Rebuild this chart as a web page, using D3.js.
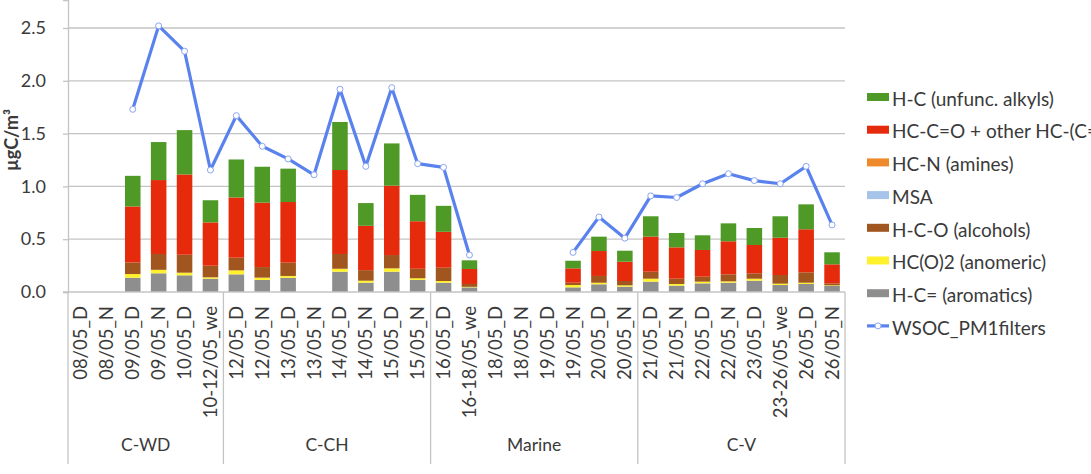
<!DOCTYPE html>
<html>
<head>
<meta charset="utf-8">
<script src="https://cdn.jsdelivr.net/npm/d3@7"></script>
<style>
  body { margin: 0; background: #fff; }
  text { font-family: Lato, "Open Sans", sans-serif; fill: #3a3a3a; }
</style>
</head>
<body>
<div id="container"></div>
<script>
let w = 1091;
let h = 474;

// categories (sample periods) and site groups
let categories = ["08/05_D","08/05_N","09/05_D","09/05_N","10/05_D","10-12/05_we",
  "12/05_D","12/05_N","13/05_D","13/05_N","14/05_D","14/05_N","15/05_D","15/05_N",
  "16/05_D","16-18/05_we","18/05_D","18/05_N","19/05_D","19/05_N","20/05_D","20/05_N",
  "21/05_D","21/05_N","22/05_D","22/05_N","23/05_D","23-26/05_we","26/05_D","26/05_N"];
let groupNames = ["C-WD", "C-CH", "Marine", "C-V"];
let groupFirst = ["08/05_D", "12/05_D", "16/05_D", "21/05_D"];
let groupLast = ["10-12/05_we", "15/05_N", "20/05_N", "26/05_N"];

// stacked components, µgC/m3
let aromatics = [0,0,.135,.177,.158,.126,.167,.114,.135,0,.192,.088,.192,.114,.088,.044,0,0,0,.044,.073,.05,.098,.06,.082,.088,.107,.066,.076,.057];
let anomeric  = [0,0,.035,.033,.025,.013,.038,.022,.017,0,.028,.019,.032,.016,.016,.005,0,0,0,.022,.015,.013,.028,.016,.016,.013,.019,.013,.012,.006];
let alcohols  = [0,0,.11,.15,.17,.11,.12,.10,.126,0,.14,.10,.126,.09,.126,.027,0,0,0,.022,.064,.041,.066,.05,.047,.066,.051,.082,.098,.019];
let msa       = [0,0,0,0,0,0,0,0,0,0,0,0,0,0,0,0,0,0,0,0,0,0,0,0,0,0,0,0,0,0];
let amines    = [0,0,0,0,0,0,0,0,0,0,0,0,0,0,0,0,0,0,0,0,0,0,0,0,0,0,0,0,0,0];
let carbonyl  = [0,0,.53,.70,.76,.41,.57,.61,.574,0,.795,.42,.657,.45,.34,.142,0,0,0,.136,.236,.183,.332,.297,.253,.313,.268,.353,.408,.18];
let alkyls    = [0,0,.29,.36,.42,.21,.36,.34,.316,0,.455,.215,.40,.25,.246,.082,0,0,0,.072,.136,.104,.193,.136,.139,.17,.161,.203,.236,.114];

let wsoc = [null,null,1.73,2.52,2.28,1.155,1.67,1.38,1.26,1.11,1.92,1.19,1.935,1.215,1.18,0.35,
  null,null,null,0.375,0.71,0.51,0.91,0.895,1.025,1.12,1.055,1.025,1.19,0.635];

let yTicks = [0, 0.5, 1.0, 1.5, 2.0, 2.5];

// stack order bottom -> top
let keys = ["aromatics","anomeric","alcohols","msa","amines","carbonyl","alkyls"];
let seriesValues = {aromatics, anomeric, alcohols, msa, amines, carbonyl, alkyls};
let seriesLabels = {
  alkyls: "H-C (unfunc. alkyls)",
  carbonyl: "HC-C=O + other HC-(C=O)",
  amines: "HC-N (amines)",
  msa: "MSA",
  alcohols: "H-C-O (alcohols)",
  anomeric: "HC(O)2 (anomeric)",
  aromatics: "H-C= (aromatics)"
};
let colors = {
  alkyls: "#4f9a27",
  carbonyl: "#e52b0c",
  amines: "#ef8a2c",
  msa: "#a6c3ea",
  alcohols: "#a0561e",
  anomeric: "#fff12c",
  aromatics: "#8e8e8e"
};
let lineColor = "#5a82ee";

let table = categories.map((c, i) => {
  let row = {cat: c};
  keys.forEach(k => row[k] = seriesValues[k][i]);
  return row;
});

let viz = d3.select("#container")
  .append("svg")
    .attr("width", w)
    .attr("height", h);

let xScale = d3.scaleBand().domain(categories).range([68, 845]).paddingInner(0.4).paddingOuter(0.2);
let yScale = d3.scaleLinear().domain([0, 2.765]).range([292, 0]);

// gridlines
viz.append("g").selectAll("line").data(yTicks.slice(1)).enter()
  .append("line")
    .attr("x1", 68).attr("x2", 845)
    .attr("y1", d => yScale(d)).attr("y2", d => yScale(d))
    .attr("stroke", "#c4c4c4").attr("stroke-width", 1.3);

// y axis
let yAxisGroup = viz.append("g").attr("transform", "translate(68,0)");
yAxisGroup.call(d3.axisLeft(yScale).tickValues(yTicks).tickFormat(d3.format(".1f")).tickSize(5).tickPadding(17));
yAxisGroup.select(".domain").attr("stroke", "#c4c4c4").attr("stroke-width", 1.3);
yAxisGroup.selectAll(".tick line").attr("stroke", "#c4c4c4").attr("stroke-width", 1.3);
yAxisGroup.selectAll(".tick text")
  .style("font-family", "Lato, sans-serif").style("font-size", "18px").attr("fill", "#3a3a3a");

viz.append("text")
  .attr("transform", "translate(18,140) rotate(-90)")
  .attr("text-anchor", "middle")
  .style("font-size", "18px").style("font-weight", "bold")
  .text("µgC/m³");

// bars
let stacked = d3.stack().keys(keys)(table);
viz.append("g").selectAll("g").data(stacked).enter()
  .append("g")
    .attr("fill", d => colors[d.key])
  .selectAll("rect").data(d => d).enter()
  .append("rect")
    .attr("x", d => xScale(d.data.cat))
    .attr("width", xScale.bandwidth())
    .attr("y", d => yScale(d[1]))
    .attr("height", d => yScale(d[0]) - yScale(d[1]));

// category axis
let axisG = viz.append("g").attr("class", "catAxis");
axisG.append("line")
  .attr("x1", 63).attr("x2", 845).attr("y1", 292).attr("y2", 292)
  .attr("stroke", "#c4c4c4").attr("stroke-width", 1.3);

let seps = [68].concat(groupLast.map(c => xScale(c) + xScale.step() * 0.8));
axisG.selectAll(".sep").data(seps).enter()
  .append("line")
    .attr("x1", d => d).attr("x2", d => d)
    .attr("y1", 292).attr("y2", 464)
    .attr("stroke", "#c4c4c4").attr("stroke-width", 1.3);

axisG.selectAll(".catLabel").data(categories).enter()
  .append("text")
    .attr("transform", d => "translate(" + (xScale(d) + xScale.bandwidth() / 2) + ",306) rotate(-90)")
    .attr("text-anchor", "end")
    .attr("dy", "0.35em")
    .style("font-size", "18.5px")
    .text(d => d);

axisG.selectAll(".groupLabel").data(groupNames).enter()
  .append("text")
    .attr("x", (d, i) => (xScale(groupFirst[i]) - xScale.step() * 0.2 + xScale(groupLast[i]) + xScale.step() * 0.8) / 2)
    .attr("y", 451)
    .attr("text-anchor", "middle")
    .style("font-size", "17.5px")
    .text(d => d);

// WSOC line
let lineGen = d3.line()
  .defined(d => d != null)
  .x((d, i) => xScale(categories[i]) + xScale.bandwidth() / 2)
  .y(d => yScale(d));

viz.append("path")
  .datum(wsoc)
  .attr("d", lineGen)
  .attr("fill", "none")
  .attr("stroke", lineColor)
  .attr("stroke-width", 3.2)
  .attr("stroke-linejoin", "round");

viz.append("g").selectAll("circle")
  .data(wsoc.map((v, i) => ({v, cat: categories[i]})).filter(d => d.v != null)).enter()
  .append("circle")
    .attr("cx", d => xScale(d.cat) + xScale.bandwidth() / 2)
    .attr("cy", d => yScale(d.v))
    .attr("r", 3)
    .attr("fill", "#fff")
    .attr("stroke", "#8aa6f2")
    .attr("stroke-width", 1);

// legend
let legendKeys = keys.slice().reverse();
let legend = viz.append("g").attr("transform", "translate(867,100)");
let items = legend.selectAll("g").data(legendKeys).enter()
  .append("g")
    .attr("transform", (d, i) => "translate(0," + (i * 32.7) + ")");
items.append("rect")
  .attr("x", 0).attr("y", -7).attr("width", 22).attr("height", 8)
  .attr("fill", d => colors[d]);
items.append("text")
  .attr("x", 25).attr("y", 0).attr("dy", "0.3em")
  .style("font-size", "19px")
  .text(d => seriesLabels[d]);

let lineItem = legend.append("g").attr("transform", "translate(0," + (legendKeys.length * 32.7) + ")");
lineItem.append("line")
  .attr("x1", 0).attr("x2", 22).attr("y1", -3).attr("y2", -3)
  .attr("stroke", lineColor).attr("stroke-width", 3.2);
lineItem.append("circle")
  .attr("cx", 11).attr("cy", -3).attr("r", 3)
  .attr("fill", "#fff").attr("stroke", "#8aa6f2");
lineItem.append("text")
  .attr("x", 25).attr("y", 0).attr("dy", "0.3em")
  .style("font-size", "19px")
  .text("WSOC_PM1filters");
</script>
</body>
</html>
